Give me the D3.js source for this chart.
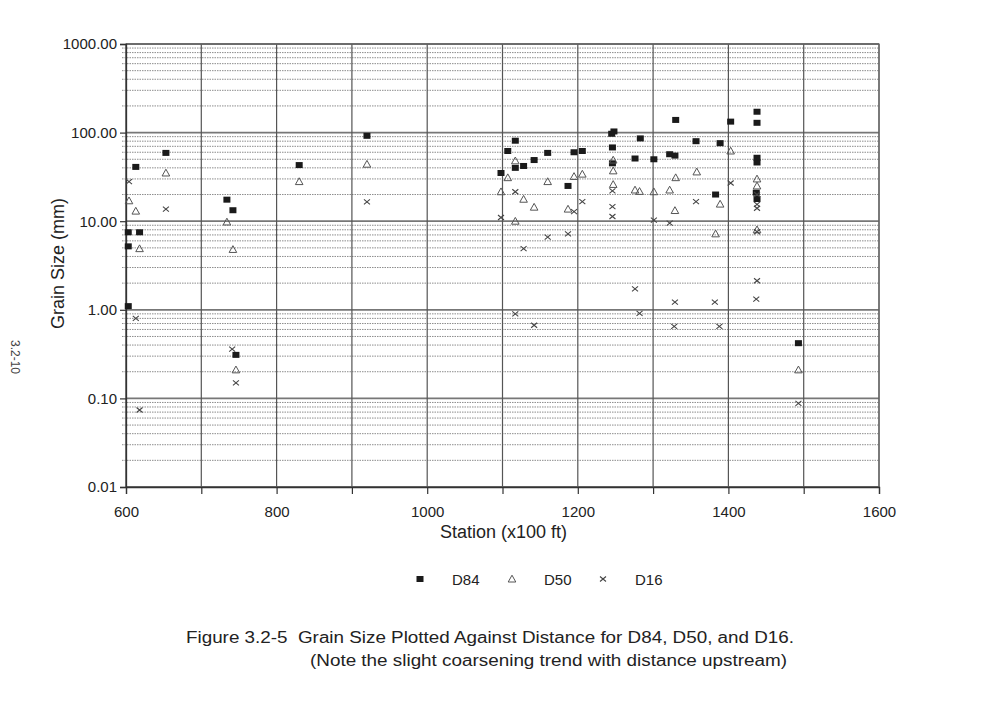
<!DOCTYPE html>
<html>
<head>
<meta charset="utf-8">
<script src="https://cdn.jsdelivr.net/npm/d3@7"></script>
<style>
  body { margin: 0; background: #fff; }
  svg { display: block; font-family: "Liberation Sans", Arial, sans-serif; }
</style>
</head>
<body>
<div id="chart"></div>
<script>
// station (x100 ft), grain size (mm)
const d84 = [
  [603, 7.5], [603, 5.2], [603, 1.1], [613, 41], [618, 7.5], [653, 59],
  [734, 17.5], [742, 13.3], [746, 0.31], [830, 43], [920, 92],
  [1098, 35], [1107, 62], [1117, 81], [1117, 40], [1128, 42], [1142, 49],
  [1160, 59], [1187, 25], [1195, 60], [1206, 62], [1245, 97], [1248, 103],
  [1246, 68], [1246, 45], [1276, 51], [1283, 86], [1301, 50], [1322, 57],
  [1329, 55], [1330, 139], [1357, 80], [1383, 20], [1389, 76], [1403, 133],
  [1438, 172], [1438, 129], [1438, 52], [1438, 46], [1437, 21], [1438, 17.8],
  [1493, 0.42]
];
const d50 = [
  [604, 17], [613, 13], [618, 4.9], [653, 35], [734, 9.8], [742, 4.8],
  [746, 0.21], [830, 28], [920, 44], [1098, 21.5], [1107, 31], [1117, 48],
  [1117, 10], [1128, 17.7], [1142, 14.4], [1160, 28], [1187, 13.7],
  [1195, 32], [1206, 34], [1247, 49], [1247, 37], [1247, 26], [1276, 22.5],
  [1282, 21.7], [1301, 21.5], [1322, 22.5], [1330, 31], [1329, 13.2],
  [1358, 36], [1383, 7.2], [1389, 15.6], [1403, 62], [1438, 30], [1438, 25],
  [1438, 8.0], [1493, 0.21]
];
const d16 = [
  [604, 28], [613, 0.8], [618, 0.074], [653, 13.7], [741, 0.36], [746, 0.15],
  [920, 16.5], [1098, 11], [1117, 21.5], [1117, 0.9], [1128, 4.9],
  [1142, 0.67], [1160, 6.6], [1187, 7.2], [1195, 12.8], [1206, 16.6],
  [1246, 22], [1246, 14.6], [1246, 11.3], [1276, 1.72], [1282, 0.91],
  [1301, 10.3], [1322, 9.5], [1329, 1.22], [1328, 0.65], [1357, 16.6],
  [1382, 1.22], [1388, 0.65], [1403, 27], [1438, 20], [1438, 15.5],
  [1438, 14], [1438, 7.6], [1438, 2.13], [1437, 1.32], [1493, 0.088]
];
const xTicks = [600, 700, 800, 900, 1000, 1100, 1200, 1300, 1400, 1500, 1600];
const yTicks = [0.01, 0.1, 1, 10, 100, 1000];
const seriesNames = ["D84", "D50", "D16"];

const width = 1005, height = 723;
const plotLeft = 126, plotRight = 879, plotTop = 44, plotBottom = 487;

const svg = d3.select("#chart").append("svg")
  .attr("width", width).attr("height", height);

const x = d3.scaleLinear().domain([600, 1600]).range([plotLeft, plotRight]);
const y = d3.scaleLog().domain([0.01, 1000]).range([plotBottom, plotTop]);

// minor horizontal grid (2..9 per decade)
const minor = [];
yTicks.slice(0, -1).forEach(d => { for (let k = 2; k <= 9; k++) minor.push(d * k); });

svg.append("g").selectAll("line").data(minor).join("line")
  .attr("x1", plotLeft - 4).attr("x2", plotRight)
  .attr("y1", d => y(d)).attr("y2", d => y(d))
  .attr("stroke", "#808080").attr("stroke-width", 0.9)
  .attr("stroke-dasharray", "1.5,1");

// major horizontal grid
svg.append("g").selectAll("line").data(yTicks).join("line")
  .attr("x1", plotLeft).attr("x2", plotRight)
  .attr("y1", d => y(d)).attr("y2", d => y(d))
  .attr("stroke", "#777").attr("stroke-width", 1.8);

// vertical grid
svg.append("g").selectAll("line").data(xTicks).join("line")
  .attr("x1", d => x(d)).attr("x2", d => x(d))
  .attr("y1", plotTop).attr("y2", plotBottom)
  .attr("stroke", "#555").attr("stroke-width", 1.2);

// frame
svg.append("rect")
  .attr("x", plotLeft).attr("y", plotTop)
  .attr("width", plotRight - plotLeft).attr("height", plotBottom - plotTop)
  .attr("fill", "none").attr("stroke", "#666").attr("stroke-width", 1.2);

// axes
const xAxis = svg.append("g")
  .attr("transform", `translate(0,${plotBottom})`)
  .call(d3.axisBottom(x).tickValues(xTicks).tickSize(7).tickPadding(12)
    .tickFormat(d => d % 200 === 0 ? d : ""));
const yAxis = svg.append("g")
  .attr("transform", `translate(${plotLeft},0)`)
  .call(d3.axisLeft(y).tickValues(yTicks).tickSize(6).tickPadding(3)
    .tickFormat(d3.format(".2f")));
[xAxis, yAxis].forEach(g => {
  g.select(".domain").attr("stroke", "#333").attr("stroke-width", 1.3);
  g.selectAll(".tick line").attr("stroke", "#333").attr("stroke-width", 1.2);
  g.selectAll("text").attr("font-size", 15).attr("fill", "#222")
    .attr("font-family", "'Liberation Sans', Arial, sans-serif");
});

// markers
function square(g) {
  g.append("rect").attr("x", -3.5).attr("y", -3).attr("width", 7).attr("height", 6)
    .attr("fill", "#1a1a1a");
}
function triangle(g) {
  g.append("path").attr("d", "M0,-3.8L3.8,3L-3.8,3Z")
    .attr("fill", "none").attr("stroke", "#555").attr("stroke-width", 1);
}
function cross(g) {
  g.append("path").attr("d", "M-3,-2.5L3,2.5M-3,2.5L3,-2.5")
    .attr("stroke", "#444").attr("stroke-width", 1.1);
}
const shapes = [square, triangle, cross];

[d84, d50, d16].forEach((data, i) => {
  svg.append("g").selectAll("g").data(data).join("g")
    .attr("transform", d => `translate(${x(d[0])},${y(d[1])})`)
    .each(function() { shapes[i](d3.select(this)); });
});

// axis titles
svg.append("text")
  .attr("x", (plotLeft + plotRight) / 2 + 1).attr("y", 538)
  .attr("text-anchor", "middle").attr("font-size", 18).attr("fill", "#222")
  .text("Station (x100 ft)");
svg.append("text")
  .attr("transform", `translate(64,${(plotTop + plotBottom) / 2 - 2}) rotate(-90)`)
  .attr("text-anchor", "middle").attr("font-size", 18).attr("fill", "#222")
  .text("Grain Size (mm)");

// page number on the side
svg.append("text")
  .attr("transform", "translate(11,357) rotate(90)")
  .attr("text-anchor", "middle").attr("font-size", 12).attr("fill", "#444")
  .text("3.2-10");

// legend
const legendX = [420, 512, 603];
const legend = svg.append("g");
seriesNames.forEach((name, i) => {
  const g = legend.append("g").attr("transform", `translate(${legendX[i]},579)`);
  shapes[i](g);
  legend.append("text")
    .attr("x", legendX[i] + 32).attr("y", 585)
    .attr("font-size", 15).attr("fill", "#222")
    .text(name);
});

// caption
svg.append("text")
  .attr("x", 186).attr("y", 643)
  .attr("font-size", 16).attr("fill", "#222")
  .attr("textLength", 608).attr("lengthAdjust", "spacingAndGlyphs")
  .text("Figure 3.2-5\u00a0\u00a0Grain Size Plotted Against Distance for D84, D50, and D16.");
svg.append("text")
  .attr("x", 310).attr("y", 666)
  .attr("font-size", 16).attr("fill", "#222")
  .attr("textLength", 477).attr("lengthAdjust", "spacingAndGlyphs")
  .text("(Note the slight coarsening trend with distance upstream)");
</script>
</body>
</html>
